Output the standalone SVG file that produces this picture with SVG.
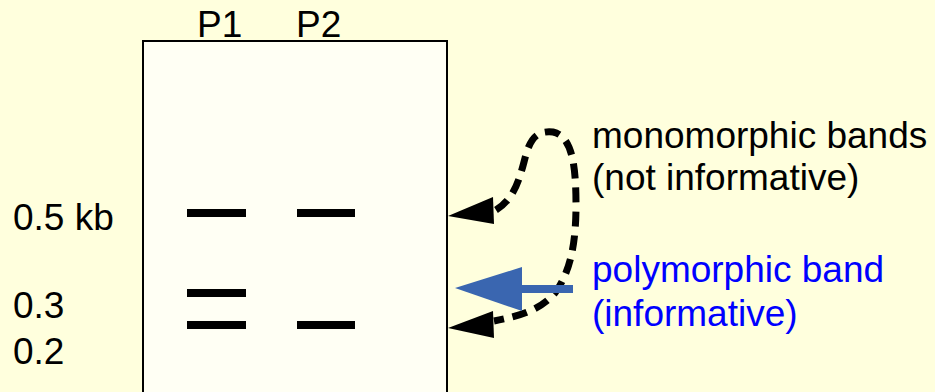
<svg xmlns="http://www.w3.org/2000/svg" width="935" height="392" viewBox="0 0 935 392">
  <defs>
    <style>
      .lbl { font-family: "Liberation Sans", Arial, sans-serif; font-size: 37px; fill: #000; }
      .blue { fill: #0000FF; }
      .band { fill: #000; }
      .dash { fill: none; stroke: #000; stroke-width: 7; stroke-dasharray: 15 9; }
      .head { fill: #000; }
    </style>
  </defs>

  <!-- background -->
  <rect x="0" y="0" width="935" height="392" fill="#FFFFDD"/>

  <!-- gel -->
  <g id="gel">
    <rect x="143" y="41" width="304" height="360" fill="#FFFFF4" stroke="#000" stroke-width="2"/>
    <text class="lbl" x="197" y="37">P1</text>
    <text class="lbl" x="296" y="37">P2</text>
  </g>

  <!-- bands -->
  <g id="bands">
    <rect class="band" x="187" y="209" width="59" height="8"/>
    <rect class="band" x="297" y="209" width="58" height="8"/>
    <rect class="band" x="187" y="289" width="59" height="8"/>
    <rect class="band" x="187" y="321" width="59" height="8"/>
    <rect class="band" x="297" y="321" width="58" height="8"/>
  </g>

  <!-- size markers -->
  <g id="sizes">
    <text class="lbl" x="13" y="230">0.5 kb</text>
    <text class="lbl" x="13" y="318">0.3</text>
    <text class="lbl" x="13" y="364">0.2</text>
  </g>

  <!-- connectors -->
  <g id="connectors">
    <path class="dash" d="M496,210 C512,200 518,185 524,162 C529,142 534,130 553,132 C572,136 576,165 576,205 C576,245 570,272 555,293 C540,310 520,316 494,321"/>
    <polygon class="head" points="448,216 493,197 494,224"/>
    <polygon class="head" points="448,328 493,311 494,338"/>
    <path d="M573,289 L520,289" stroke="#3A66B0" stroke-width="8" fill="none"/>
    <polygon points="455,288 522,267 522,311" fill="#3A66B0"/>
  </g>

  <!-- annotations -->
  <g id="notes">
    <text class="lbl" x="592" y="148">monomorphic bands</text>
    <text class="lbl" x="592" y="190">(not informative)</text>
    <text class="lbl blue" x="592" y="282">polymorphic band</text>
    <text class="lbl blue" x="592" y="326">(informative)</text>
  </g>
</svg>
